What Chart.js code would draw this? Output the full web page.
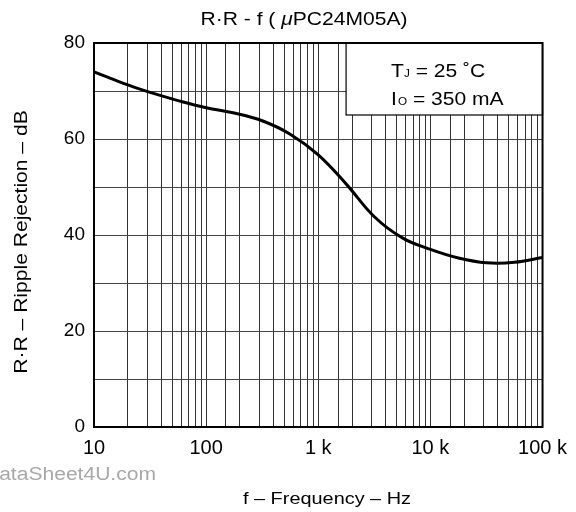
<!DOCTYPE html>
<html>
<head>
<meta charset="utf-8">
<script src="https://cdn.jsdelivr.net/npm/chart.js@4.4.1/dist/chart.umd.min.js"></script>
<style>
  body { margin: 0; background: #fff; }
  #wrap { width: 576px; height: 512px; }
</style>
</head>
<body>
<div id="wrap"><canvas id="rrChart" width="576" height="512"></canvas></div>
<script>
// values, roughly every quarter decade
var freqHz = [10, 17.8, 31.6, 56.2, 100, 178, 316, 562, 1000, 1778, 3162, 5623, 10000, 17783, 31623, 56234, 100000];
var rippleDb = [74.0, 71.7, 69.7, 68.0, 66.5, 65.4, 63.8, 61.0, 56.7, 50.6, 43.8, 39.4, 37.0, 35.2, 34.2, 34.3, 35.3];

var xTickValues = [10, 100, 1000, 10000, 100000];
var xTickLabels = ['10', '100', '1 k', '10 k', '100 k'];
var yTickLabels = [0, 20, 40, 60, 80];

var FONT = '"Liberation Sans", Arial, sans-serif';
var STRETCH = 1.17; // source lettering is a bit wider than Arial

// draw text stretched horizontally like the scanned sheet
function wideText(c, txt, x, y, size, align, italic) {
  c.save();
  c.font = (italic ? 'italic ' : '') + size + 'px ' + FONT;
  var w = c.measureText(txt).width * STRETCH;
  var sx = align === 'center' ? x - w / 2 : (align === 'right' ? x - w : x);
  c.translate(sx, y);
  c.scale(STRETCH, 1);
  c.textAlign = 'left';
  c.fillText(txt, 0, 0);
  c.restore();
  return sx + w;
}
function textWidth(c, txt, size, italic) {
  c.font = (italic ? 'italic ' : '') + size + 'px ' + FONT;
  return c.measureText(txt).width * STRETCH;
}

// frame, condition box and free text
var extras = {
  id: 'extras',
  beforeDatasetsDraw: function (chart) {
    var c = chart.ctx, a = chart.chartArea;
    var xs = chart.scales.x, ys = chart.scales.y;
    // condition box (white, hides grid)
    var bx = xs.getPixelForValue(1770), by = ys.getPixelForValue(65);
    c.save();
    c.fillStyle = '#fff';
    c.fillRect(bx, a.top, a.right - bx, by - a.top);
    c.strokeStyle = '#000';
    c.lineWidth = 1.2;
    c.strokeRect(bx, a.top, a.right - bx, by - a.top);

    c.fillStyle = '#000';
    c.textBaseline = 'alphabetic';
    var tx = bx + 45;
    var x1 = wideText(c, 'T', tx, a.top + 34, 18, 'left');
    x1 = wideText(c, 'J', x1, a.top + 34, 10, 'left');
    wideText(c, ' = 25 ˚C', x1, a.top + 34, 18, 'left');
    var x2 = wideText(c, 'I', tx, a.top + 62, 18, 'left');
    x2 = wideText(c, 'O', x2 + 1, a.top + 62, 10, 'left');
    wideText(c, ' = 350 mA', x2, a.top + 62, 18, 'left');
    c.restore();
  },
  afterDraw: function (chart) {
    var c = chart.ctx, a = chart.chartArea;
    c.save();
    c.strokeStyle = '#000';
    c.lineWidth = 2;
    c.strokeRect(a.left, a.top, a.right - a.left, a.bottom - a.top);

    c.fillStyle = '#000';
    c.textBaseline = 'middle';
    // title with italic mu
    var t1 = 'R·R - f ( ', mu = 'μ', t2 = 'PC24M05A)';
    var wAll = textWidth(c, t1, 18) + textWidth(c, mu, 18, true) + textWidth(c, t2, 18);
    var sx = 304 - wAll / 2;
    sx = wideText(c, t1, sx, 20, 18, 'left');
    sx = wideText(c, mu, sx, 20, 18, 'left', true);
    wideText(c, t2, sx, 20, 18, 'left');

    // x title
    wideText(c, 'f – Frequency – Hz', 327, 499, 17, 'center');

    // y title
    c.save();
    c.translate(22, 242);
    c.rotate(-Math.PI / 2);
    wideText(c, 'R·R – Ripple Rejection – dB', 0, 0, 18, 'center');
    c.restore();

    // watermark
    c.fillStyle = '#a8a8a8';
    wideText(c, 'DataSheet4U.com', 156, 475, 18, 'right');
    c.restore();
  }
};

var ctx = document.getElementById('rrChart').getContext('2d');
var rrChart = new Chart(ctx, {
  type: 'line',
  data: {
    datasets: [{
      data: freqHz.map(function (f, i) { return { x: f, y: rippleDb[i] }; }),
      borderColor: '#000',
      borderWidth: 3,
      pointRadius: 0,
      fill: false,
      tension: 0.4
    }]
  },
  options: {
    responsive: false,
    animation: false,
    devicePixelRatio: 1,
    layout: { padding: { top: 43, right: 30, left: 0, bottom: 0 } },
    plugins: {
      legend: { display: false },
      title: { display: false },
      tooltip: { enabled: false }
    },
    scales: {
      x: {
        type: 'logarithmic',
        min: 10,
        max: 100000,
        afterFit: function (s) { s.height = 85; },
        grid: { color: '#333', lineWidth: 1, drawTicks: false },
        border: { color: '#000', width: 2 },
        ticks: {
          autoSkip: false,
          maxRotation: 0,
          padding: 9,
          color: '#000',
          font: { family: FONT, size: 20 },
          callback: function (v) {
            var i = xTickValues.indexOf(Number(v));
            return i >= 0 ? xTickLabels[i] : '';
          }
        }
      },
      y: {
        min: 0,
        max: 80,
        afterFit: function (s) { s.width = 94; },
        grid: { color: '#444', lineWidth: 1, drawTicks: false },
        border: { color: '#000', width: 2 },
        ticks: {
          stepSize: 10,
          padding: 9,
          color: '#000',
          font: { family: FONT, size: 19 },
          callback: function (v) {
            return yTickLabels.indexOf(v) >= 0 ? String(v) : '';
          }
        }
      }
    }
  },
  plugins: [extras]
});
</script>
</body>
</html>
